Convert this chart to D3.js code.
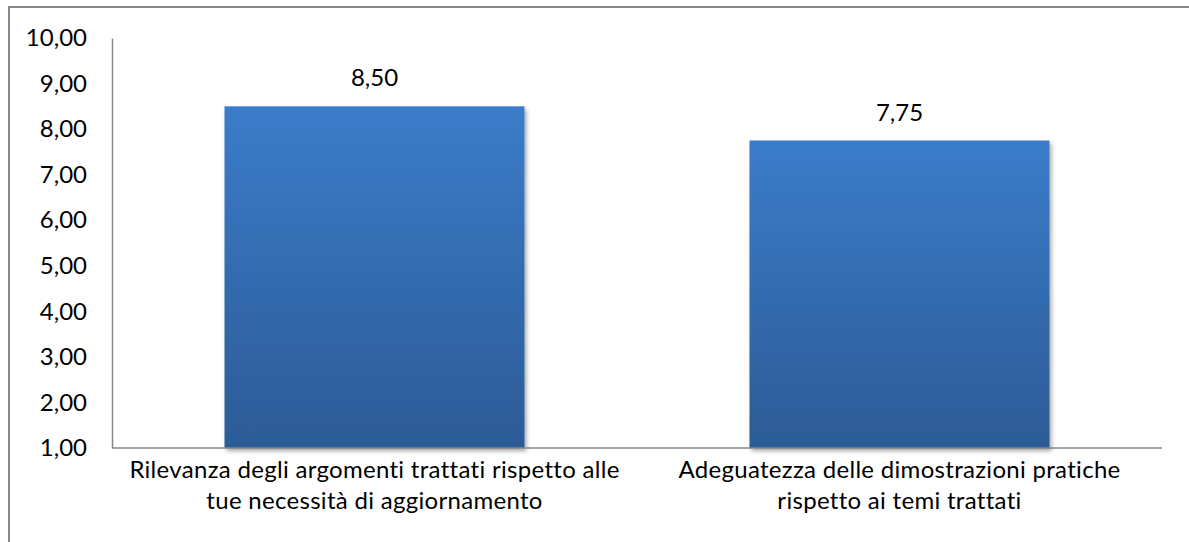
<!DOCTYPE html>
<html>
<head>
<meta charset="utf-8">
<script src="https://cdn.jsdelivr.net/npm/d3@7"></script>
<style>
  body { margin: 0; background: #fff; }
  svg { display: block; font-family: Lato, "Open Sans", sans-serif; font-variant-ligatures: none; }
</style>
</head>
<body>
<div id="chart"></div>
<script>
const categories = [
  ['Rilevanza degli argomenti trattati rispetto alle', 'tue necessità di aggiornamento'],
  ['Adeguatezza delle dimostrazioni pratiche', 'rispetto ai temi trattati']
];
const values = [8.50, 7.75];
const yTicks = [1, 2, 3, 4, 5, 6, 7, 8, 9, 10];

const width = 1189, height = 542;
const margin = { top: 38, right: 27, bottom: 94, left: 112 };
const fontSize = 24;
const fmt = v => d3.format('.2f')(v).replace('.', ',');

const svg = d3.select('#chart').append('svg')
  .attr('width', width).attr('height', height);

const defs = svg.append('defs');
const grad = defs.append('linearGradient')
  .attr('id', 'barGrad').attr('x1', 0).attr('y1', 0).attr('x2', 0).attr('y2', 1);
grad.append('stop').attr('offset', '0%').attr('stop-color', '#3b7cca');
grad.append('stop').attr('offset', '100%').attr('stop-color', '#2c5b96');
const shadow = defs.append('filter').attr('id', 'shadow')
  .attr('x', '-10%').attr('y', '-10%').attr('width', '120%').attr('height', '120%');
shadow.append('feDropShadow').attr('dx', 2).attr('dy', 3)
  .attr('stdDeviation', 2).attr('flood-color', '#000').attr('flood-opacity', 0.35);

// chart area border
svg.append('rect').attr('x', 9).attr('y', 7)
  .attr('width', 1300).attr('height', 700)
  .attr('fill', 'none').attr('stroke', '#868686').attr('stroke-width', 2);

const x = d3.scaleBand()
  .domain(d3.range(categories.length))
  .range([margin.left, width - margin.right])
  .paddingInner(0.4286).paddingOuter(0.2143);

const y = d3.scaleLinear()
  .domain([1, 10])
  .range([height - margin.bottom, margin.top]);

// bars
svg.append('g').selectAll('rect')
  .data(values)
  .join('rect')
  .attr('x', (d, i) => x(i))
  .attr('y', d => y(d))
  .attr('width', x.bandwidth())
  .attr('height', d => y(1) - y(d))
  .attr('fill', 'url(#barGrad)')
  .attr('filter', 'url(#shadow)');

// value labels
svg.append('g').selectAll('text')
  .data(values)
  .join('text')
  .attr('x', (d, i) => x(i) + x.bandwidth() / 2)
  .attr('y', d => y(d) - 20)
  .attr('text-anchor', 'middle')
  .attr('font-size', fontSize)
  .attr('fill', '#000')
  .text(d => fmt(d));

// y axis
const yAxis = svg.append('g')
  .attr('transform', `translate(${margin.left},0)`)
  .call(d3.axisLeft(y).tickValues(yTicks).tickSize(0).tickPadding(25).tickFormat(fmt));
yAxis.select('.domain').attr('stroke', '#868686').attr('stroke-width', 1.5);
yAxis.selectAll('text').attr('font-size', fontSize).attr('fill', '#000')
  .attr('font-family', 'Lato, "Open Sans", sans-serif');

// x axis line
svg.append('line')
  .attr('x1', margin.left).attr('x2', width - margin.right)
  .attr('y1', y(1)).attr('y2', y(1))
  .attr('stroke', '#868686').attr('stroke-width', 1.5);

// category labels
svg.append('g').selectAll('text')
  .data(categories)
  .join('text')
  .attr('x', (d, i) => x(i) + x.bandwidth() / 2)
  .attr('y', y(1) + 30)
  .attr('text-anchor', 'middle')
  .attr('font-size', fontSize)
  .attr('letter-spacing', 0.3)
  .attr('fill', '#000')
  .selectAll('tspan')
  .data(d => d)
  .join('tspan')
  .attr('x', function () { return this.parentNode.getAttribute('x'); })
  .attr('dy', (d, i) => i === 0 ? 0 : 31)
  .text(d => d);
</script>
</body>
</html>
